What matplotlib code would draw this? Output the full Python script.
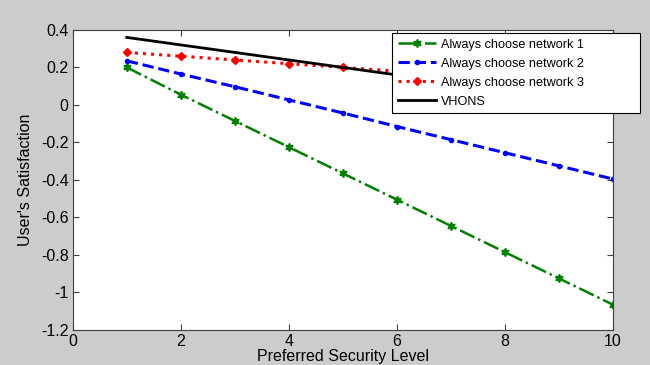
import numpy as np
import matplotlib
matplotlib.use("Agg")
import matplotlib.pyplot as plt

plt.rcParams['font.family'] = ['Liberation Sans', 'DejaVu Sans']

# ---- data ----
security_level = [1, 2, 3, 4, 5, 6, 7, 8, 9, 10]
net1 = [0.20, 0.055, -0.085, -0.225, -0.365, -0.505, -0.645, -0.785, -0.925, -1.065]
net2 = [0.235, 0.165, 0.097, 0.027, -0.043, -0.115, -0.185, -0.255, -0.325, -0.395]
net3 = [0.28, 0.26, 0.24, 0.22, 0.20, 0.18, 0.16, 0.14, 0.12, 0.10]
vhons = [0.36, 0.32, 0.28, 0.24, 0.20, 0.16, 0.12, 0.08, 0.04, 0.0]

labels = ['Always choose network 1', 'Always choose network 2',
          'Always choose network 3', 'VHONS']

fig = plt.figure(figsize=(6.5, 3.65), dpi=100, facecolor='#cccccc')
ax = fig.add_axes([0.112, 0.096, 0.831, 0.822])
ax.set_facecolor('white')

ax.plot(security_level, net1, color='#008000', linestyle='-.', linewidth=1.8,
        marker=(6, 1, 0), markersize=6, label=labels[0])
ax.plot(security_level, net2, color='#0000ff', linestyle='--', linewidth=2.2,
        marker='.', markersize=6, label=labels[1])
ax.plot(security_level, net3, color='#ff0000', linestyle=':', linewidth=2.2,
        marker='D', markersize=4, label=labels[2])
ax.plot(security_level, vhons, color='black', linestyle='-', linewidth=2,
        label=labels[3])

ax.set_xlim(0, 10)
ax.set_ylim(-1.2, 0.4)
ax.set_xticks([0, 2, 4, 6, 8, 10])
ax.set_yticks(np.round(np.arange(-1.2, 0.41, 0.2), 1))
ax.set_yticklabels(['-1.2', '-1', '-0.8', '-0.6', '-0.4', '-0.2', '0', '0.2', '0.4'])
ax.tick_params(direction='in', top=True, right=True, labelsize=11.5,
               length=4, width=0.8, pad=3, color='#404040')
for s in ax.spines.values():
    s.set_color('#404040')

ax.set_xlabel('Preferred Security Level', fontsize=11.5, labelpad=0)
ax.set_ylabel("User's Satisfaction", fontsize=11.5, labelpad=6)

leg = ax.legend(loc='upper left',
                bbox_to_anchor=(392 / 650, (365 - 113) / 365, 248 / 650, 80 / 365),
                bbox_transform=fig.transFigure, mode='expand',
                fontsize=9.1, frameon=True, fancybox=False, edgecolor='black',
                framealpha=1, handlelength=3.0, handletextpad=0.4,
                borderpad=0.45, borderaxespad=0, labelspacing=0.55)
leg.get_frame().set_linewidth(0.8)
leg.set_zorder(10)

fig.savefig('out.png', dpi=100, facecolor=fig.get_facecolor())
